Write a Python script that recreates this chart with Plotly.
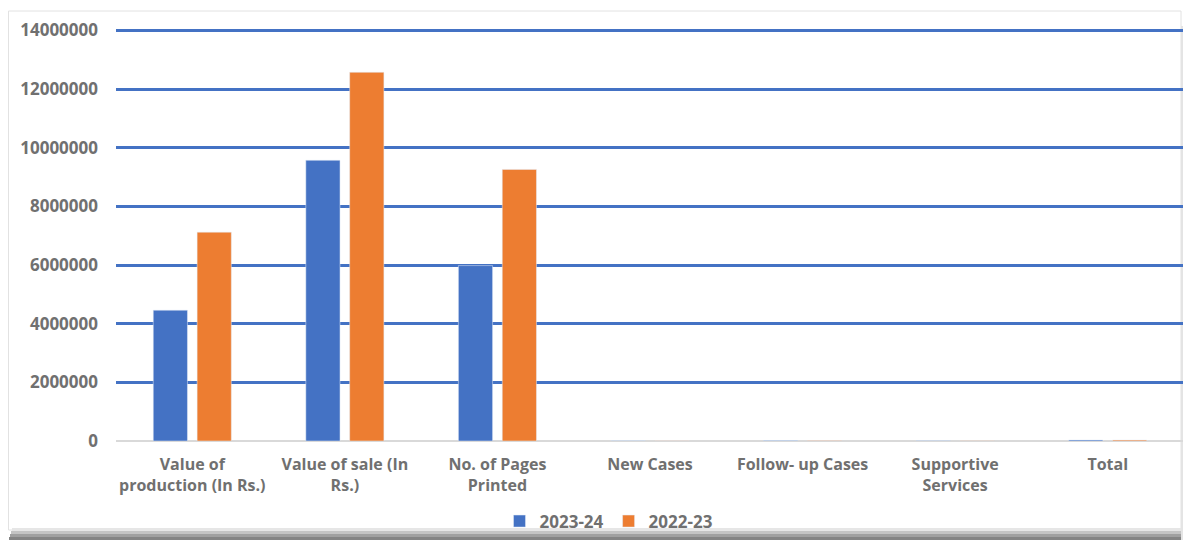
import plotly.graph_objects as go

# categories and series values
categories = [
    "Value of<br>production (In Rs.)",
    "Value of sale (In<br>Rs.)",
    "No. of Pages<br>Printed",
    "New Cases",
    "Follow- up Cases",
    "Supportive<br>Services",
    "Total",
]
values_2023_24 = [4460000, 9570000, 5980000, 12000, 18000, 6000, 36000]
values_2022_23 = [7120000, 12570000, 9260000, 10000, 16000, 5000, 31000]
tick_vals = [0, 2000000, 4000000, 6000000, 8000000, 10000000, 12000000, 14000000]

BLUE = "#4472C4"
ORANGE = "#ED7D31"
GREY = "#707070"

# figure size / margins (page has an 8px body margin)
W, H = 1183, 532
ML, MR, MT, MB = 108, 7, 20, 99
PW, PH = W - ML - MR, H - MT - MB


def px(page_x):
    return (page_x - 8 - ML) / PW


def py(page_y):
    return (H - MB - (page_y - 8)) / PH


fig = go.Figure()
fig.add_trace(go.Bar(x=categories, y=values_2023_24, name="2023-24", marker_color=BLUE))
fig.add_trace(go.Bar(x=categories, y=values_2022_23, name="2022-23", marker_color=ORANGE))

# frame and bottom/right shadow of the pasted chart
shapes = [
    dict(type="rect", xref="paper", yref="paper", x0=px(8.5), x1=px(1181), y0=py(530), y1=py(11),
         line=dict(color="#E2E2E2", width=1), layer="below"),
]
for i, c in enumerate(["#E6E6E6", "#C4C4C4", "#A0A0A0", "#848484"]):
    shapes.append(dict(type="rect", xref="paper", yref="paper",
                       x0=px(12 - i), x1=px(1191), y0=py(531 + i * 3), y1=py(528 + i * 3),
                       line=dict(width=0), fillcolor=c, layer="below"))
for i, c in enumerate(["#E4E4E4", "#CFCFCF", "#B4B4B4", "#9C9C9C"]):
    shapes.append(dict(type="rect", xref="paper", yref="paper",
                       x0=px(1181 + i * 2.5), x1=px(1183.5 + i * 2.5), y0=py(540), y1=py(26 + i),
                       line=dict(width=0), fillcolor=c, layer="below"))

fig.update_layout(
    width=W,
    height=H,
    barmode="group",
    bargap=0.425,
    bargroupgap=0.22,
    plot_bgcolor="rgba(0,0,0,0)",
    paper_bgcolor="white",
    margin=dict(l=ML, r=MR, t=MT, b=MB),
    font=dict(family="Open Sans, DejaVu Sans, sans-serif", size=16, color=GREY),
    shapes=shapes,
    legend=dict(
        orientation="h", x=px(609), xanchor="center",
        yref="container", y=1 - (521.5 - 8) / H, yanchor="middle",
        font=dict(size=17, color=GREY, weight="bold"),
        itemwidth=30, bgcolor="rgba(0,0,0,0)",
    ),
    xaxis=dict(
        showgrid=False, ticks="", showline=False, automargin=False,
        tickfont=dict(size=16, color=GREY, weight="bold"),
        ticklabelstandoff=12,
    ),
    yaxis=dict(
        range=[0, 14080000], tickvals=tick_vals, tickformat="d",
        showgrid=True, gridcolor=BLUE, gridwidth=3,
        zeroline=True, zerolinecolor="#D9D9D9", zerolinewidth=1.5,
        showline=False, ticks="", automargin=False,
        tickfont=dict(size=17, color=GREY, weight="bold"),
        ticklabelstandoff=17,
    ),
)

fig.write_html("out.html")
